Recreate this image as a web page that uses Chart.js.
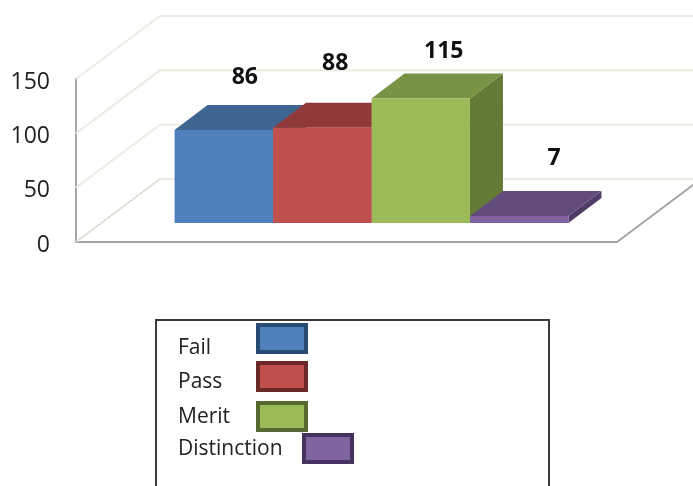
<!DOCTYPE html>
<html>
<head>
<meta charset="utf-8">
<style>html,body{margin:0;padding:0;background:#fff;overflow:hidden}canvas{display:block}</style>
<script src="https://cdn.jsdelivr.net/npm/chart.js@4"></script>
</head>
<body>
<canvas id="c" width="693" height="486"></canvas>
<script>
const seriesNames = ['Fail', 'Pass', 'Merit', 'Distinction'];
const seriesValues = [86, 88, 115, 7];
const categoryLabels = ['Grades'];
const yTicks = [0, 50, 100, 150];

const frontColors = ['#4F81BD', '#C0504D', '#9BBB59', '#8064A2'];
const topColors = ['#3F6591', '#8F3A38', '#779444', '#634C7B'];
const sideColors = ['#37587F', '#7A3230', '#647A37', '#4F3C66'];
const legendBorders = ['#274B73', '#6B2A28', '#56692F', '#45325E'];

const wallDepth = { x: 84, y: -63 };
const barShift = { x: 25, y: -18.5 };
const barDepth = { x: 33, y: -25 };
const labelNudge = [{x: 21, y: -52.5}, {x: 13, y: -64}, {x: 23, y: -47}, {x: 35, y: -57}];
const legendRows = [
  { textY: 348, sx: 258, sy: 325 },
  { textY: 382, sx: 258, sy: 363 },
  { textY: 417, sx: 258, sy: 403 },
  { textY: 449, sx: 304, sy: 435 }
];

function poly(ctx, pts, fill) {
  ctx.beginPath();
  pts.forEach((p, i) => i ? ctx.lineTo(p[0], p[1]) : ctx.moveTo(p[0], p[1]));
  ctx.closePath();
  ctx.fillStyle = fill;
  ctx.fill();
}

const scene3d = {
  id: 'scene3d',
  beforeDatasetsDraw(chart) {
    const ctx = chart.ctx, a = chart.chartArea, y = chart.scales.y;
    ctx.save();
    // back wall gridlines and left wall diagonals
    yTicks.forEach(t => {
      const py = y.getPixelForValue(t);
      ctx.beginPath();
      ctx.moveTo(a.left, py);
      ctx.lineTo(a.left + wallDepth.x, py + wallDepth.y);
      ctx.lineTo(a.right + wallDepth.x, py + wallDepth.y);
      ctx.lineWidth = 2;
      ctx.strokeStyle = '#EDECE2';
      ctx.stroke();
    });
    // dotted floor/left-wall edge
    ctx.beginPath();
    ctx.moveTo(a.left, a.bottom);
    ctx.lineTo(a.left + wallDepth.x, a.bottom + wallDepth.y);
    ctx.setLineDash([2, 2]);
    ctx.lineWidth = 1;
    ctx.strokeStyle = '#BDBDB5';
    ctx.stroke();
    ctx.setLineDash([]);
    // right floor edge
    ctx.beginPath();
    ctx.moveTo(a.right, a.bottom);
    ctx.lineTo(a.right + wallDepth.x, a.bottom + wallDepth.y);
    ctx.lineWidth = 2;
    ctx.strokeStyle = '#A6A6A6';
    ctx.stroke();
    // bar sides and tops, painted left to right
    ctx.translate(barShift.x, barShift.y);
    seriesNames.forEach((_, i) => {
      const b = chart.getDatasetMeta(i).data[0];
      const l = b.x - b.width / 2, r = b.x + b.width / 2, t = b.y, bs = b.base;
      const dx = barDepth.x, dy = barDepth.y;
      poly(ctx, [[r, t], [r + dx, t + dy], [r + dx, bs + dy], [r, bs]], sideColors[i]);
      poly(ctx, [[l, t], [l + dx, t + dy], [r + dx, t + dy], [r, t]], topColors[i]);
    });
    // fronts are drawn by Chart.js with this same translation
  },
  afterDatasetsDraw(chart) {
    const ctx = chart.ctx;
    ctx.restore();
    // value labels
    ctx.save();
    ctx.font = 'bold 23px "Open Sans"';
    ctx.fillStyle = '#111';
    ctx.textAlign = 'center';
    ctx.textBaseline = 'middle';
    seriesValues.forEach((v, i) => {
      const b = chart.getDatasetMeta(i).data[0];
      ctx.fillText(String(v), b.x + barShift.x + labelNudge[i].x, b.y + barShift.y + labelNudge[i].y);
    });
    ctx.restore();
  },
  afterDraw(chart) {
    const ctx = chart.ctx;
    ctx.save();
    // legend frame
    ctx.lineWidth = 2;
    ctx.strokeStyle = '#3A3A3A';
    ctx.strokeRect(156, 320, 393, 180);
    ctx.font = '21px "Open Sans"';
    ctx.textAlign = 'left';
    ctx.textBaseline = 'middle';
    chart.data.datasets.forEach((ds, i) => {
      const row = legendRows[i];
      ctx.fillStyle = '#222';
      ctx.fillText(ds.label, 178, row.textY);
      ctx.fillStyle = frontColors[i];
      ctx.fillRect(row.sx, row.sy, 48, 27);
      ctx.lineWidth = 4;
      ctx.strokeStyle = legendBorders[i];
      ctx.strokeRect(row.sx, row.sy, 48, 27);
    });
    ctx.restore();
  }
};

new Chart(document.getElementById('c'), {
  type: 'bar',
  data: {
    labels: categoryLabels,
    datasets: seriesNames.map((name, i) => ({
      label: name,
      data: [seriesValues[i]],
      backgroundColor: frontColors[i],
      borderWidth: 0
    }))
  },
  options: {
    responsive: false,
    animation: false,
    devicePixelRatio: 1,
    categoryPercentage: 0.728,
    barPercentage: 1,
    layout: { padding: { top: 79, bottom: 244, left: 0, right: 76 } },
    plugins: { legend: { display: false }, tooltip: { enabled: false }, title: { display: false } },
    scales: {
      x: {
        ticks: { display: false },
        grid: { display: false },
        border: { display: true, color: '#A6A6A6', width: 2 },
        afterFit(s) { s.height = 0; }
      },
      y: {
        min: yTicks[0],
        max: yTicks[yTicks.length - 1],
        afterBuildTicks(s) { s.ticks = yTicks.map(v => ({ value: v })); },
        ticks: { color: '#222', font: { family: '"Open Sans"', size: 23 }, padding: 26, maxRotation: 0, labelOffset: 3 },
        grid: { display: true, drawOnChartArea: false, drawTicks: false },
        border: { display: true, color: '#A6A6A6', width: 2 },
        afterFit(s) { s.width = 76; }
      }
    }
  },
  plugins: [scene3d]
});
</script>
</body>
</html>
